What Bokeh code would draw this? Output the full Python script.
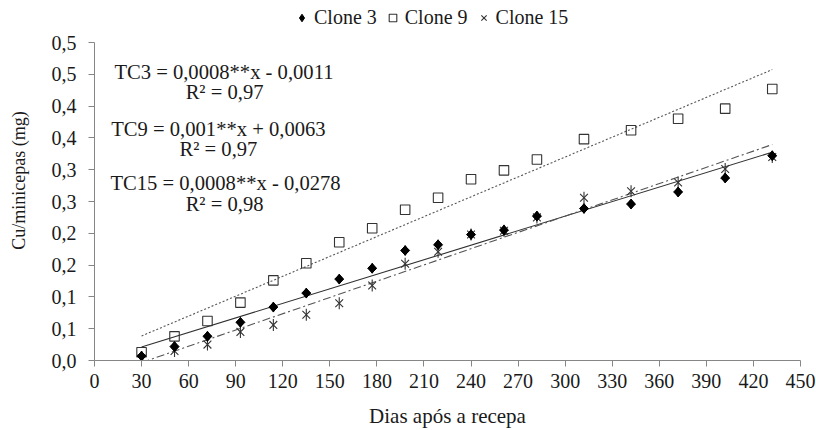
import numpy as np
from bokeh.plotting import figure
from bokeh.models import Range1d, FixedTicker, Label, Legend, LegendItem
from bokeh.embed import file_html
from bokeh.resources import INLINE

# ---------------- data ----------------
days = [30, 51, 72, 93, 114, 135, 156, 177, 198, 219, 240, 261, 282, 312, 342, 372, 402, 432]
clone3 = [0.007, 0.022, 0.038, 0.060, 0.084, 0.106, 0.128, 0.145, 0.173, 0.182,
          0.198, 0.205, 0.227, 0.239, 0.246, 0.265, 0.287, 0.322]
clone9 = [0.013, 0.038, 0.062, 0.091, 0.126, 0.153, 0.186, 0.208, 0.237, 0.256,
          0.285, 0.299, 0.316, 0.348, 0.362, 0.380, 0.396, 0.427]
clone15 = [0.003, 0.015, 0.025, 0.045, 0.056, 0.072, 0.090, 0.118, 0.152, 0.171,
           0.198, 0.204, 0.225, 0.256, 0.266, 0.280, 0.301, 0.320]
series_names = ["Clone 3", "Clone 9", "Clone 15"]
x_ticks = [0, 30, 60, 90, 120, 150, 180, 210, 240, 270, 300, 330, 360, 390, 420, 450]
y_ticks = [0.0, 0.05, 0.1, 0.15, 0.2, 0.25, 0.3, 0.35, 0.4, 0.45, 0.5]
y_tick_labels = ["0,0", "0,1", "0,1", "0,2", "0,2", "0,3", "0,3", "0,4", "0,4", "0,5", "0,5"]
equations = ["TC3 = 0,0008**x - 0,0011", "TC9 = 0,001**x + 0,0063", "TC15 = 0,0008**x - 0,0278"]
r2_texts = ["R² = 0,97", "R² = 0,97", "R² = 0,98"]
x_title = "Dias após a recepa"
y_title = "Cu/minicepas (mg)"

FONT = "Liberation Serif"
AXIS_C = "#868686"
TXT_C = "#1a1a1a"
MARK_C = "#333333"

Y_MAX = 0.5
FRAME_H = 360          # frame height in px (axis area top of picture to x axis)
AXIS_H = 318           # px occupied by the 0..0.5 axis
y_end = Y_MAX * FRAME_H / AXIS_H   # headroom above 0.5 holds the key, like the reference

p = figure(width=816, height=430, output_backend="svg", toolbar_location=None,
           x_range=Range1d(0, 450), y_range=Range1d(0, y_end),
           min_border_left=94, min_border_right=16, min_border_top=0, min_border_bottom=70,
           background_fill_color="white", border_fill_color="white")
p.outline_line_color = None
p.xgrid.visible = False
p.ygrid.visible = False

for ax in (p.xaxis[0], p.yaxis[0]):
    ax.axis_line_color = AXIS_C
    ax.major_tick_line_color = AXIS_C
    ax.minor_tick_line_color = None
    ax.major_tick_out = 6
    ax.major_tick_in = 0
    ax.major_label_text_font = FONT
    ax.major_label_text_font_size = "20px"
    ax.major_label_text_color = TXT_C
    ax.axis_label_text_font = FONT
    ax.axis_label_text_font_style = "normal"
    ax.axis_label_text_color = TXT_C

p.xaxis.ticker = FixedTicker(ticks=x_ticks)
p.xaxis.major_label_standoff = 7
p.xaxis.axis_label = x_title
p.xaxis.axis_label_text_font_size = "21px"
p.xaxis.axis_label_standoff = 13

p.yaxis.ticker = FixedTicker(ticks=y_ticks)
p.yaxis.bounds = (0, Y_MAX)
p.yaxis.major_label_overrides = {t: l for t, l in zip(y_ticks, y_tick_labels)}
p.yaxis.major_label_standoff = 12
p.yaxis.axis_label = y_title
p.yaxis.axis_label_text_font_size = "18px"
p.yaxis.axis_label_standoff = 20

# ---------------- trend lines (least squares on the data) ----------------
xs_line = [min(days), max(days)]
trend_styles = [
    dict(line_color="#303030", line_width=1.1, line_dash="solid"),
    dict(line_color="#555555", line_width=1.1, line_dash="2 2"),
    dict(line_color="#555555", line_width=1.1, line_dash="8 3 2 3"),
]
for ys, st in zip([clone3, clone9, clone15], trend_styles):
    m, b = np.polyfit(days, ys, 1)
    p.line(xs_line, [m * xv + b for xv in xs_line], **st)

# ---------------- markers ----------------
r9 = p.scatter(days, clone9, marker="square", size=9.5, fill_color=None,
               line_color=MARK_C, line_width=1.1)
r15x = p.scatter(days, clone15, marker="x", size=11, line_color=MARK_C, line_width=1.1)
p.scatter(days, clone15, marker="dash", size=12, angle=np.pi / 2,
          line_color=MARK_C, line_width=1.1)
r3 = p.scatter(days, clone3, marker="diamond", size=10, fill_color="black",
               line_color="black", line_width=1)
p.scatter(days, clone3, marker="square", size=6.4, angle=np.pi / 4,
          fill_color="black", line_color="black", line_width=1)

# ---------------- legend (in the headroom above the 0,5 tick) ----------------
legend = Legend(items=[LegendItem(label=series_names[0], renderers=[r3]),
                       LegendItem(label=series_names[1], renderers=[r9]),
                       LegendItem(label=series_names[2], renderers=[r15x])],
                location=(198, 331), orientation="horizontal",
                glyph_width=19, glyph_height=19, label_standoff=3, spacing=6,
                padding=0, margin=0, border_line_color=None, background_fill_alpha=0,
                label_text_font=FONT, label_text_font_size="20px", label_text_color=TXT_C)
p.add_layout(legend)

# ---------------- regression equations ----------------
eq_pos = [(82.5, 0.4533), (79.0, 0.3643), (83.5, 0.2788)]
r2_pos = [(82.9, 0.4219), (79.0, 0.3329), (82.9, 0.2464)]
for txt, (xx, yy) in zip(equations, eq_pos):
    p.add_layout(Label(x=xx, y=yy, text=txt, text_align="center", text_baseline="middle",
                       text_font=FONT, text_font_size="20.6px", text_color=TXT_C))
for txt, (xx, yy) in zip(r2_texts, r2_pos):
    p.add_layout(Label(x=xx, y=yy, text=txt, text_align="center", text_baseline="middle",
                       text_font=FONT, text_font_size="20.6px", text_color=TXT_C))

open("out.html", "w").write(file_html(p, INLINE))
